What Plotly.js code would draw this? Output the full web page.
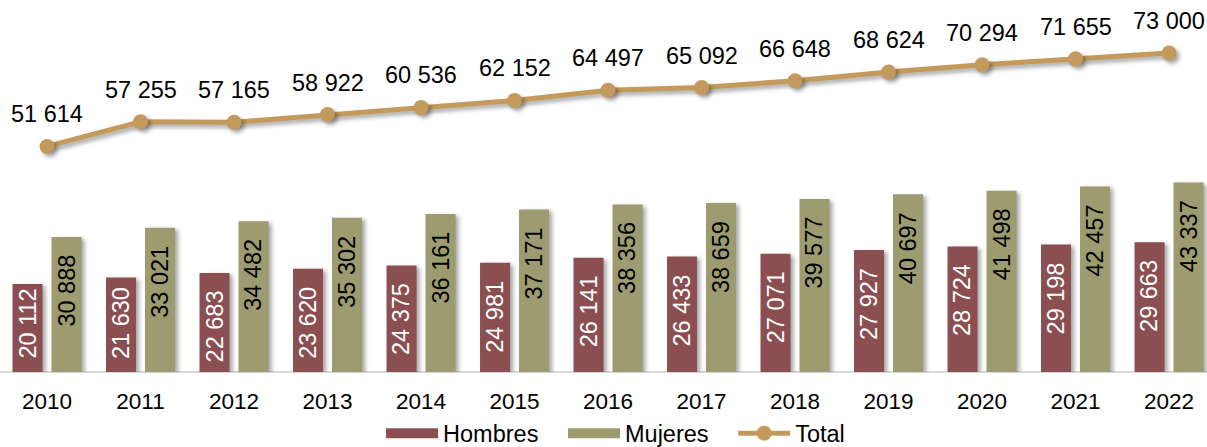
<!DOCTYPE html>
<html>
<head>
<meta charset="utf-8">
<script src="https://cdn.plot.ly/plotly-3.0.1.min.js"></script>
<style>
html,body{margin:0;padding:0;background:#fff;}
#chart{width:1207px;height:447px;}
.barlayer .point path{filter:drop-shadow(3px 2px 2px rgba(0,0,0,0.35));}
.scatterlayer .js-line{filter:drop-shadow(3px 3px 2px rgba(0,0,0,0.35));}
.scatterlayer .points path{filter:drop-shadow(3px 3px 2px rgba(0,0,0,0.35));}
</style>
</head>
<body>
<div id="chart"></div>
<script>
const years = ["2010","2011","2012","2013","2014","2015","2016","2017","2018","2019","2020","2021","2022"];
const hombres = [20112,21630,22683,23620,24375,24981,26141,26433,27071,27927,28724,29198,29663];
const mujeres = [30888,33021,34482,35302,36161,37171,38356,38659,39577,40697,41498,42457,43337];
const total = [51614,57255,57165,58922,60536,62152,64497,65092,66648,68624,70294,71655,73000];
const seriesNames = ["Hombres","Mujeres","Total"];

const fmt = v => String(v).replace(/\B(?=(\d{3})+(?!\d))/g, " ");
const FONT = "Liberation Sans, Arial, sans-serif";
const cH = "#8B4F52", cM = "#9C9C70", cT = "#C49A5C";
const GAP = "\u00a0\u00a0\u00a0";

const W = 1207, H = 447, MB = 75, YMAX = 85126;
const plotH = H - MB;
const pxPerUnit = plotH / YMAX;
const LABEL_LEN = 72, PAD_TOP = 16, PAD_BOTTOM = 11;

const traces = [
  {type:"bar", name:seriesNames[0], x:years, y:hombres, marker:{color:cH}, hoverinfo:"skip", showlegend:false},
  {type:"bar", name:seriesNames[1], x:years, y:mujeres, marker:{color:cM}, hoverinfo:"skip", showlegend:false},
  {type:"scatter", mode:"lines+markers", name:seriesNames[2], x:years, y:total,
   line:{color:cT, width:5}, marker:{color:cT, size:15}, hoverinfo:"skip", showlegend:false},
  {type:"scatter", mode:"lines", name:seriesNames[0]+GAP, x:[null], y:[null], line:{color:cH, width:12}},
  {type:"scatter", mode:"lines", name:seriesNames[1]+GAP, x:[null], y:[null], line:{color:cM, width:12}},
  {type:"scatter", mode:"lines+markers", name:seriesNames[2], x:[null], y:[null], line:{color:cT, width:5}, marker:{color:cT, size:15}}
];

function barLabel(i, v, shift, color){
  const fitsAtEnd = v*pxPerUnit - PAD_TOP - LABEL_LEN >= PAD_BOTTOM;
  const base = {x:i, xref:"x", yref:"y", text:fmt(v), textangle:-90, showarrow:false,
    xanchor:"center", xshift:shift, font:{family:FONT,size:23.5,color:color}};
  if (fitsAtEnd) return Object.assign(base, {y:v, yanchor:"top", yshift:-PAD_TOP});
  return Object.assign(base, {y:0, yanchor:"bottom", yshift:PAD_BOTTOM});
}

const ann = [];
years.forEach((yr,i)=>{
  ann.push(barLabel(i, hombres[i], -19.5, "#ffffff"));
  ann.push(barLabel(i, mujeres[i], 19.5, "#000000"));
  ann.push({x:i, y:total[i], xref:"x", yref:"y", text:fmt(total[i]), showarrow:false,
    xanchor:"center", yanchor:"middle", yshift:32, font:{family:FONT,size:23.5,color:"#000000"}});
});

const layout = {
  width:W, height:H,
  margin:{l:0, r:0, t:0, b:MB, autoexpand:false},
  paper_bgcolor:"#ffffff", plot_bgcolor:"#ffffff",
  barmode:"group", bargap:0.166, bargroupgap:0.23,
  font:{family:FONT, size:22, color:"#000"},
  xaxis:{type:"category", range:[-0.503,12.406], showgrid:false, zeroline:false,
    showline:false, ticks:"", tickfont:{family:FONT,size:22.5,color:"#000"}, ticklabelstandoff:13},
  yaxis:{range:[0,YMAX], showgrid:false, zeroline:true, zerolinecolor:"#D9D9D9", zerolinewidth:2,
    showticklabels:false, ticks:""},
  showlegend:true,
  legend:{orientation:"h", x:0.51, xanchor:"center", y:-0.165, yanchor:"middle",
    bgcolor:"rgba(0,0,0,0)",
    font:{family:FONT,size:23.5,color:"#000"}, traceorder:"normal", itemwidth:52},
  annotations:ann
};

Plotly.newPlot("chart", traces, layout, {displayModeBar:false, staticPlot:true});
</script>
</body>
</html>
